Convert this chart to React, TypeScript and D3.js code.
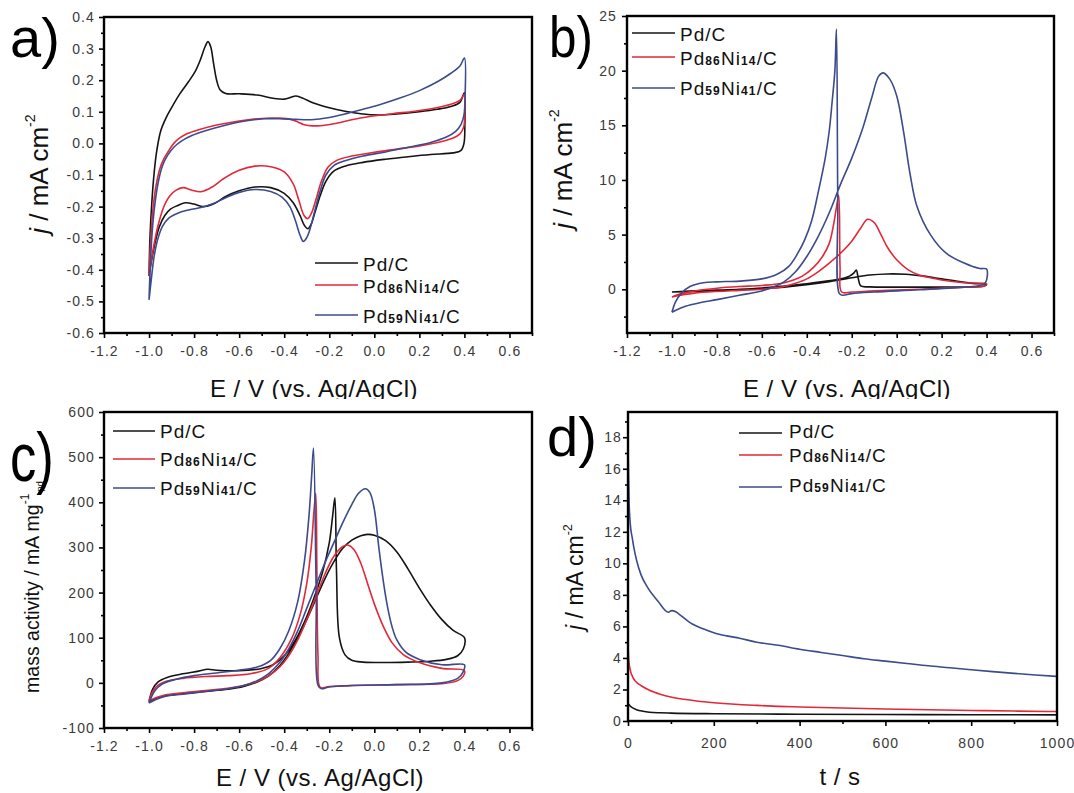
import React, { useEffect, useRef } from "react";
import * as d3 from "d3";

type Pt = [number, number];

const W = 1074;
const H = 793;
const FONT = "Arial, 'Liberation Sans', Helvetica, sans-serif";

const seriesNames = ["Pd/C", "Pd86Ni14/C", "Pd59Ni41/C"];
const seriesColors = ["#141414", "#e3283a", "#3b4b8c"];

// tick values
const cvETicks = [-1.2, -1.0, -0.8, -0.6, -0.4, -0.2, 0.0, 0.2, 0.4, 0.6];
const aJTicks = [-0.6, -0.5, -0.4, -0.3, -0.2, -0.1, 0.0, 0.1, 0.2, 0.3, 0.4];
const bJTicks = [0, 5, 10, 15, 20, 25];
const cMassTicks = [-100, 0, 100, 200, 300, 400, 500, 600];
const dTimeTicks = [0, 200, 400, 600, 800, 1000];
const dJTicks = [0, 2, 4, 6, 8, 10, 12, 14, 16, 18];

// a) CV in KOH, [E, j] loops (forward then reverse)
const aPdC: Pt[] = [
  [-1.0, -0.42], [-0.996, -0.3], [-0.988, -0.19], [-0.977, -0.09], [-0.965, -0.02], [-0.948, 0.04],
  [-0.925, 0.08], [-0.9, 0.113], [-0.865, 0.155], [-0.825, 0.195], [-0.795, 0.228], [-0.772, 0.265],
  [-0.752, 0.305], [-0.738, 0.322], [-0.726, 0.305], [-0.714, 0.255], [-0.7, 0.2], [-0.685, 0.17],
  [-0.66, 0.158], [-0.6, 0.157], [-0.52, 0.153], [-0.45, 0.143], [-0.4, 0.14], [-0.37, 0.146],
  [-0.35, 0.15], [-0.32, 0.144], [-0.27, 0.128], [-0.2, 0.113], [-0.13, 0.102], [-0.06, 0.094],
  [0.02, 0.09], [0.1, 0.093], [0.2, 0.1], [0.28, 0.108], [0.34, 0.117], [0.38, 0.13], [0.4, 0.16],
  [0.402, 0.06], [0.398, 0.0], [0.385, -0.022], [0.35, -0.03], [0.25, -0.035], [0.15, -0.042],
  [0.05, -0.05], [-0.05, -0.06], [-0.13, -0.072], [-0.18, -0.088], [-0.215, -0.12], [-0.24, -0.165],
  [-0.262, -0.215], [-0.28, -0.255], [-0.295, -0.27], [-0.31, -0.26], [-0.33, -0.228], [-0.36, -0.188],
  [-0.4, -0.158], [-0.46, -0.14], [-0.53, -0.138], [-0.6, -0.15], [-0.66, -0.168], [-0.71, -0.19],
  [-0.76, -0.2], [-0.8, -0.192], [-0.84, -0.188], [-0.875, -0.197], [-0.905, -0.208], [-0.93, -0.228],
  [-0.955, -0.265], [-0.975, -0.32], [-0.99, -0.375], [-1.0, -0.42],
];
const aPd86: Pt[] = [
  [-1.0, -0.42], [-0.993, -0.31], [-0.983, -0.21], [-0.968, -0.13], [-0.952, -0.08], [-0.935, -0.05],
  [-0.912, -0.022], [-0.89, 0.0], [-0.862, 0.018], [-0.83, 0.031], [-0.78, 0.043], [-0.7, 0.058],
  [-0.6, 0.071], [-0.5, 0.079], [-0.42, 0.08], [-0.37, 0.076], [-0.34, 0.068], [-0.315, 0.06],
  [-0.285, 0.056], [-0.24, 0.056], [-0.18, 0.062], [-0.1, 0.075], [-0.02, 0.085], [0.08, 0.094],
  [0.18, 0.102], [0.27, 0.112], [0.34, 0.124], [0.38, 0.136], [0.4, 0.155],
  [0.402, 0.09], [0.396, 0.05], [0.38, 0.03], [0.35, 0.017], [0.3, 0.006], [0.2, -0.008], [0.1, -0.018],
  [0.0, -0.028], [-0.1, -0.04], [-0.165, -0.053], [-0.205, -0.075], [-0.235, -0.12], [-0.26, -0.18],
  [-0.28, -0.222], [-0.296, -0.238], [-0.312, -0.228], [-0.335, -0.18], [-0.36, -0.128], [-0.4, -0.09],
  [-0.46, -0.074], [-0.53, -0.072], [-0.6, -0.085], [-0.67, -0.112], [-0.72, -0.138], [-0.77, -0.153],
  [-0.81, -0.148], [-0.85, -0.14], [-0.88, -0.148], [-0.91, -0.168], [-0.937, -0.205], [-0.96, -0.26],
  [-0.978, -0.32], [-0.992, -0.38], [-1.0, -0.42],
];
const aPd59: Pt[] = [
  [-1.0, -0.495], [-0.994, -0.38], [-0.985, -0.27], [-0.972, -0.18], [-0.957, -0.115], [-0.94, -0.07],
  [-0.918, -0.038], [-0.89, -0.012], [-0.855, 0.008], [-0.81, 0.025], [-0.75, 0.04], [-0.67, 0.056],
  [-0.58, 0.07], [-0.49, 0.078], [-0.42, 0.078], [-0.35, 0.076], [-0.28, 0.075], [-0.2, 0.082],
  [-0.12, 0.095], [-0.05, 0.108], [0.03, 0.124], [0.12, 0.145], [0.2, 0.167], [0.28, 0.195],
  [0.34, 0.222], [0.38, 0.245], [0.4, 0.27],
  [0.403, 0.15], [0.398, 0.09], [0.385, 0.06], [0.36, 0.037], [0.32, 0.02], [0.25, 0.003], [0.15, -0.012],
  [0.05, -0.027], [-0.05, -0.04], [-0.13, -0.055], [-0.18, -0.07], [-0.215, -0.1], [-0.24, -0.15],
  [-0.265, -0.215], [-0.285, -0.27], [-0.3, -0.298], [-0.315, -0.31], [-0.33, -0.29], [-0.35, -0.245],
  [-0.375, -0.2], [-0.41, -0.17], [-0.46, -0.152], [-0.53, -0.146], [-0.6, -0.155], [-0.66, -0.172],
  [-0.72, -0.192], [-0.77, -0.203], [-0.82, -0.21], [-0.87, -0.22], [-0.91, -0.235], [-0.94, -0.262],
  [-0.962, -0.305], [-0.978, -0.36], [-0.99, -0.43], [-1.0, -0.495],
];

// b) ethanol oxidation CV, j in mA cm-2
const bPdC: Pt[] = [
  [-1.0, -0.25], [-0.9, -0.2], [-0.8, -0.13], [-0.7, -0.05], [-0.6, 0.05], [-0.5, 0.2], [-0.4, 0.42],
  [-0.3, 0.7], [-0.2, 1.05], [-0.12, 1.3], [-0.04, 1.4], [0.04, 1.37], [0.12, 1.2], [0.2, 0.95],
  [0.28, 0.7], [0.35, 0.52], [0.4, 0.45],
  [0.39, 0.3], [0.35, 0.22], [0.2, 0.2], [0.0, 0.2], [-0.12, 0.22], [-0.16, 0.3], [-0.17, 0.9],
  [-0.18, 1.75], [-0.19, 1.5], [-0.21, 1.2], [-0.25, 0.95], [-0.32, 0.72], [-0.4, 0.5], [-0.5, 0.3],
  [-0.6, 0.12], [-0.7, 0.0], [-0.8, -0.08], [-0.9, -0.15], [-1.0, -0.25],
];
const bPd86: Pt[] = [
  [-1.0, -0.7], [-0.95, -0.5], [-0.9, -0.35], [-0.8, -0.2], [-0.7, -0.1], [-0.6, 0.0], [-0.5, 0.25],
  [-0.45, 0.55], [-0.4, 0.95], [-0.35, 1.6], [-0.3, 2.4], [-0.25, 3.3], [-0.2, 4.4], [-0.16, 5.6],
  [-0.13, 6.4], [-0.1, 6.1], [-0.07, 5.0], [-0.04, 3.8], [0.0, 2.7], [0.05, 1.8], [0.1, 1.3],
  [0.2, 0.85], [0.3, 0.6], [0.4, 0.5],
  [0.39, 0.3], [0.3, 0.2], [0.1, 0.0], [-0.1, -0.15], [-0.2, -0.25], [-0.245, -0.25], [-0.252, 2.0],
  [-0.258, 8.6], [-0.268, 7.5], [-0.28, 6.0], [-0.3, 4.2], [-0.33, 3.0], [-0.37, 2.0], [-0.42, 1.2],
  [-0.5, 0.6], [-0.6, 0.35], [-0.7, 0.25], [-0.8, 0.1], [-0.9, -0.15], [-0.95, -0.35], [-1.0, -0.7],
];
const bPd59: Pt[] = [
  [-1.0, -2.1], [-0.97, -1.8], [-0.94, -1.55], [-0.88, -1.25], [-0.8, -0.95], [-0.7, -0.55],
  [-0.6, -0.15], [-0.55, 0.2], [-0.5, 0.7], [-0.45, 1.6], [-0.4, 3.0], [-0.35, 4.8], [-0.3, 7.0],
  [-0.25, 9.6], [-0.2, 12.0], [-0.15, 14.8], [-0.11, 17.6], [-0.08, 19.5], [-0.06, 19.8], [-0.03, 19.2],
  [0.0, 17.7], [0.03, 14.5], [0.06, 10.5], [0.09, 7.6], [0.15, 5.0], [0.22, 3.3], [0.3, 2.4],
  [0.37, 1.9], [0.4, 1.85],
  [0.395, 0.6], [0.37, 0.35], [0.3, 0.2], [0.1, -0.05], [-0.1, -0.25], [-0.2, -0.4], [-0.24, -0.55],
  [-0.255, -0.4], [-0.262, 8.0], [-0.268, 23.8], [-0.275, 20.0], [-0.287, 17.2], [-0.3, 14.5],
  [-0.318, 12.0], [-0.35, 8.8], [-0.378, 6.3], [-0.41, 4.5], [-0.44, 3.3], [-0.48, 2.1], [-0.53, 1.4],
  [-0.6, 0.95], [-0.7, 0.75], [-0.8, 0.68], [-0.86, 0.6], [-0.92, 0.25], [-0.96, -0.4], [-0.985, -1.2],
  [-1.0, -2.1],
];

// c) mass activity, mA mg-1 Pd
const cPdC: Pt[] = [
  [-1.0, -42], [-0.97, -35], [-0.93, -29], [-0.85, -24], [-0.75, -19], [-0.65, -14], [-0.58, -8],
  [-0.52, 2], [-0.47, 15], [-0.42, 38], [-0.38, 65], [-0.34, 100], [-0.3, 140], [-0.26, 185],
  [-0.22, 230], [-0.18, 268], [-0.14, 298], [-0.1, 316], [-0.06, 326], [-0.03, 329], [0.0, 327],
  [0.05, 315], [0.1, 290], [0.15, 252], [0.2, 210], [0.25, 172], [0.3, 140], [0.35, 116], [0.4, 100],
  [0.395, 75], [0.37, 60], [0.32, 52], [0.25, 48], [0.15, 46], [0.05, 45], [-0.05, 46], [-0.1, 50],
  [-0.13, 62], [-0.155, 100], [-0.168, 250], [-0.175, 410], [-0.185, 370], [-0.2, 310], [-0.23, 245],
  [-0.27, 185], [-0.31, 135], [-0.35, 95], [-0.4, 60], [-0.45, 40], [-0.5, 32], [-0.6, 27], [-0.7, 28],
  [-0.74, 30], [-0.78, 26], [-0.85, 20], [-0.92, 12], [-0.96, 2], [-0.985, -15], [-1.0, -42],
];
const cPd86: Pt[] = [
  [-1.0, -40], [-0.97, -33], [-0.93, -27], [-0.85, -22], [-0.75, -17], [-0.65, -12], [-0.58, -6],
  [-0.52, 3], [-0.47, 15], [-0.42, 35], [-0.38, 60], [-0.34, 95], [-0.3, 140], [-0.26, 190],
  [-0.22, 240], [-0.18, 280], [-0.14, 302], [-0.115, 305], [-0.09, 295], [-0.06, 265], [-0.03, 220],
  [0.0, 175], [0.04, 125], [0.08, 88], [0.13, 62], [0.2, 45], [0.3, 32], [0.4, 27],
  [0.395, 15], [0.37, 5], [0.3, -2], [0.1, -4], [-0.1, -6], [-0.2, -8], [-0.24, -10], [-0.25, 60],
  [-0.255, 250], [-0.26, 420], [-0.268, 380], [-0.28, 300], [-0.3, 220], [-0.33, 150], [-0.37, 95],
  [-0.42, 55], [-0.47, 32], [-0.55, 20], [-0.65, 16], [-0.75, 14], [-0.85, 10], [-0.92, 4], [-0.96, -5],
  [-0.985, -20], [-1.0, -40],
];
const cPd59: Pt[] = [
  [-1.0, -45], [-0.97, -37], [-0.93, -30], [-0.85, -25], [-0.75, -19], [-0.65, -13], [-0.58, -6],
  [-0.52, 5], [-0.47, 20], [-0.42, 45], [-0.38, 75], [-0.34, 115], [-0.3, 165], [-0.26, 215],
  [-0.22, 265], [-0.18, 310], [-0.14, 355], [-0.1, 395], [-0.07, 420], [-0.04, 430], [-0.02, 422],
  [0.0, 385], [0.02, 300], [0.04, 225], [0.06, 165], [0.08, 122], [0.1, 95], [0.14, 68], [0.2, 52],
  [0.3, 40], [0.4, 40],
  [0.395, 25], [0.37, 10], [0.3, 0], [0.1, -4], [-0.1, -6], [-0.2, -9], [-0.235, -13], [-0.25, -5],
  [-0.258, 200], [-0.27, 520], [-0.278, 460], [-0.29, 370], [-0.31, 270], [-0.34, 180], [-0.38, 115],
  [-0.42, 75], [-0.46, 50], [-0.52, 35], [-0.6, 28], [-0.7, 22], [-0.8, 16], [-0.88, 8], [-0.94, -2],
  [-0.975, -18], [-1.0, -45],
];

// d) chronoamperometry, [t, j]
const dPdC: Pt[] = [
  [0, 1.1], [2, 1.05], [5, 0.95], [10, 0.85], [20, 0.72], [35, 0.62], [50, 0.56], [75, 0.52],
  [100, 0.5], [200, 0.46], [400, 0.43], [600, 0.41], [800, 0.4], [1000, 0.39],
];
const dPd86: Pt[] = [
  [0, 4.9], [1, 4.2], [2, 3.8], [4, 3.4], [7, 3.05], [10, 2.85], [15, 2.6], [20, 2.45], [30, 2.25],
  [50, 1.95], [75, 1.7], [100, 1.52], [130, 1.38], [160, 1.27], [200, 1.16], [250, 1.06], [300, 0.99],
  [350, 0.93], [400, 0.89], [500, 0.82], [600, 0.76], [700, 0.71], [800, 0.67], [900, 0.63], [1000, 0.6],
];
const dPd59: Pt[] = [
  [0, 17.6], [1, 16.0], [2.4, 14.0], [4, 13.0], [6.4, 12.2], [10, 11.6], [14, 10.95], [20, 10.2],
  [30, 9.3], [46, 8.46], [70, 7.6], [94, 6.9], [102, 7.0], [110, 6.95], [118, 6.8], [150, 6.15],
  [175, 5.85], [200, 5.6], [230, 5.4], [260, 5.25], [300, 5.0], [350, 4.8], [400, 4.55], [450, 4.35],
  [500, 4.15], [550, 3.95], [600, 3.8], [650, 3.65], [700, 3.5], [750, 3.38], [800, 3.25],
  [850, 3.13], [900, 3.02], [950, 2.92], [1000, 2.83],
];

const fmt1 = (v: number) => v.toFixed(1);
const fmt0 = (v: number) => String(v);
const cvCurve = d3.curveCatmullRom.alpha(0.5);

const panels = [
  {
    label: "a)", labelX: 10, labelY: 57, labelSize: 56, labelScale: [1, 1],
    left: 104, right: 532, top: 17, bottom: 333,
    xDomain: [-1.2, 0.7], yDomain: [-0.6, 0.4],
    xTicks: cvETicks, yTicks: aJTicks, xMinor: 0.1, yMinor: 0.05,
    xFmt: fmt1, yFmt: fmt1, xPad: 8, yPad: 4,
    data: [aPdC, aPd86, aPd59], curve: cvCurve,
    xTitle: "E / V (vs. Ag/AgCl)", xTitleX: 314, xTitleY: 397,
    yTitle: "j", yTitleX: 48, yTitleY: 174, yTitleSize: 26,
    legend: { x1: 315, x2: 358, tx: 363, ly: [263, 285, 315], ty: [271, 293, 323] },
  },
  {
    label: "b)", labelX: 549, labelY: 57, labelSize: 52, labelScale: [0.95, 1.12],
    left: 627, right: 1054, top: 16, bottom: 333,
    xDomain: [-1.2, 0.7], yDomain: [-4, 25],
    xTicks: cvETicks, yTicks: bJTicks, xMinor: 0.1, yMinor: 2.5,
    xFmt: fmt1, yFmt: fmt0, xPad: 8, yPad: 5,
    data: [bPdC, bPd86, bPd59], curve: cvCurve,
    xTitle: "E / V (vs. Ag/AgCl)", xTitleX: 847, xTitleY: 397,
    yTitle: "j", yTitleX: 572, yTitleY: 169, yTitleSize: 26,
    legend: { x1: 632, x2: 675, tx: 680, ly: [33, 57, 88], ty: [41, 65, 95] },
  },
  {
    label: "c)", labelX: 10, labelY: 481, labelSize: 62, labelScale: [0.85, 1.1],
    left: 104, right: 532, top: 412, bottom: 728,
    xDomain: [-1.2, 0.7], yDomain: [-100, 600],
    xTicks: cvETicks, yTicks: cMassTicks, xMinor: 0.1, yMinor: 50,
    xFmt: fmt1, yFmt: fmt0, xPad: 8, yPad: 4,
    data: [cPdC, cPd86, cPd59], curve: cvCurve,
    xTitle: "E / V (vs. Ag/AgCl)", xTitleX: 320, xTitleY: 786,
    yTitle: "mass", yTitleX: 39, yTitleY: 587, yTitleSize: 19.5,
    legend: { x1: 113, x2: 155, tx: 160, ly: [431, 459, 488], ty: [438, 466, 495] },
  },
  {
    label: "d)", labelX: 547, labelY: 456, labelSize: 56, labelScale: [1, 1],
    left: 628, right: 1057, top: 412, bottom: 721,
    xDomain: [0, 1000], yDomain: [0, 19.6],
    xTicks: dTimeTicks, yTicks: dJTicks, xMinor: 100, yMinor: 1,
    xFmt: fmt0, yFmt: fmt0, xPad: 12, yPad: 1,
    data: [dPdC, dPd86, dPd59], curve: d3.curveMonotoneX,
    xTitle: "t / s", xTitleX: 840, xTitleY: 785,
    yTitle: "j", yTitleX: 583, yTitleY: 577, yTitleSize: 23,
    legend: { x1: 739, x2: 782, tx: 789, ly: [433, 455, 487], ty: [438, 462, 492] },
  },
];

function minorValues(domain: number[], step: number, majors: number[]) {
  const out: number[] = [];
  const start = Math.ceil(domain[0] / step - 1e-6);
  const end = Math.floor(domain[1] / step + 1e-6);
  for (let k = start; k <= end; k++) {
    const v = k * step;
    if (!majors.some(m => Math.abs(m - v) < step * 1e-3)) out.push(v);
  }
  return out;
}

function drawPanel(svg: any, p: any) {
  const x = d3.scaleLinear().domain(p.xDomain).range([p.left, p.right]);
  const y = d3.scaleLinear().domain(p.yDomain).range([p.bottom, p.top]);
  const g = svg.append("g").attr("font-family", FONT);

  // Curves
  const line = d3
    .line<Pt>()
    .x(d => x(d[0]))
    .y(d => y(d[1]))
    .curve(p.curve);
  p.data.forEach((pts: Pt[], i: number) => {
    g.append("path")
      .datum(pts)
      .attr("d", line)
      .attr("fill", "none")
      .attr("stroke", seriesColors[i])
      .attr("stroke-width", 1.6)
      .attr("stroke-linejoin", "round");
  });

  // Frame
  g.append("rect")
    .attr("x", p.left)
    .attr("y", p.top)
    .attr("width", p.right - p.left)
    .attr("height", p.bottom - p.top)
    .attr("fill", "none")
    .attr("stroke", "#000")
    .attr("stroke-width", 2.4);

  const styleAxis = (sel: any) => {
    sel.select(".domain").remove();
    sel.selectAll("line").attr("stroke", "#000").attr("stroke-width", 1.6);
    sel.selectAll("text")
      .attr("fill", "#3a3a3a")
      .attr("font-size", 14)
      .attr("letter-spacing", 1.1)
      .attr("font-family", FONT);
  };

  // x-axis
  g.append("g")
    .attr("transform", `translate(0, ${p.bottom})`)
    .call(d3.axisBottom(x).tickValues(p.xTicks).tickSize(5).tickPadding(p.xPad).tickFormat(p.xFmt))
    .call(styleAxis);
  g.append("g")
    .attr("transform", `translate(0, ${p.bottom})`)
    .call(d3.axisBottom(x).tickValues(minorValues(p.xDomain, p.xMinor, p.xTicks)).tickSize(3).tickFormat(() => ""))
    .call(styleAxis);

  // y-axis
  g.append("g")
    .attr("transform", `translate(${p.left}, 0)`)
    .call(d3.axisLeft(y).tickValues(p.yTicks).tickSize(5).tickPadding(p.yPad).tickFormat(p.yFmt))
    .call(styleAxis);
  g.append("g")
    .attr("transform", `translate(${p.left}, 0)`)
    .call(d3.axisLeft(y).tickValues(minorValues(p.yDomain, p.yMinor, p.yTicks)).tickSize(3).tickFormat(() => ""))
    .call(styleAxis);

  // x-axis title
  g.append("text")
    .attr("x", p.xTitleX)
    .attr("y", p.xTitleY)
    .attr("text-anchor", "middle")
    .attr("font-size", 24)
    .attr("letter-spacing", 0.5)
    .attr("fill", "#111")
    .text(p.xTitle);

  // y-axis title
  const yt = g.append("text")
    .attr("transform", `translate(${p.yTitleX}, ${p.yTitleY}) rotate(-90)`)
    .attr("text-anchor", "middle")
    .attr("font-size", p.yTitleSize)
    .attr("fill", "#111");
  const s = p.yTitleSize;
  if (p.yTitle === "j") {
    yt.append("tspan").attr("font-style", "italic").text("j");
    yt.append("tspan").text(" / mA cm");
    yt.append("tspan").attr("font-size", s * 0.55).attr("dy", -s * 0.5).text("-2");
  } else {
    yt.append("tspan").text("mass activity / mA mg");
    yt.append("tspan").attr("font-size", 12).attr("dy", -10).text("-1");
    yt.append("tspan").attr("font-size", 9.5).attr("dy", 14).attr("dx", 2).text("pd");
  }

  // Legend
  const lg = p.legend;
  seriesNames.forEach((name, i) => {
    g.append("line")
      .attr("x1", lg.x1)
      .attr("x2", lg.x2)
      .attr("y1", lg.ly[i])
      .attr("y2", lg.ly[i])
      .attr("stroke", seriesColors[i])
      .attr("stroke-width", 1.6);
    const t = g.append("text")
      .attr("x", lg.tx)
      .attr("y", lg.ty[i])
      .attr("font-size", 19)
      .attr("letter-spacing", 1)
      .attr("fill", "#111");
    name.split(/(\d+)/).filter(Boolean).forEach(part => {
      const ts = t.append("tspan").text(part);
      if (/^\d+$/.test(part)) ts.attr("font-size", 12).attr("font-weight", "bold").attr("letter-spacing", 1.2);
    });
  });

  // Panel label
  g.append("text")
    .attr("transform", `translate(${p.labelX}, ${p.labelY}) scale(${p.labelScale[0]}, ${p.labelScale[1]})`)
    .attr("font-size", p.labelSize)
    .attr("fill", "#000")
    .text(p.label);
}

export default function App() {
  const ref = useRef<SVGSVGElement>(null);

  useEffect(() => {
    const svg = d3.select(ref.current);
    svg.selectAll("*").remove();
    svg.append("rect").attr("width", W).attr("height", H).attr("fill", "#fff");

    drawPanel(svg, panels[0]);
    drawPanel(svg, panels[1]);
    // the top panels are cropped just under their axis titles
    svg.append("rect").attr("x", 0).attr("y", 399).attr("width", W).attr("height", 9).attr("fill", "#fff");
    drawPanel(svg, panels[2]);
    drawPanel(svg, panels[3]);
  }, []);

  return (
    <svg
      ref={ref}
      width={W}
      height={H}
      viewBox={`0 0 ${W} ${H}`}
      style={{ position: "absolute", left: 0, top: 0, display: "block" }}
    />
  );
}
